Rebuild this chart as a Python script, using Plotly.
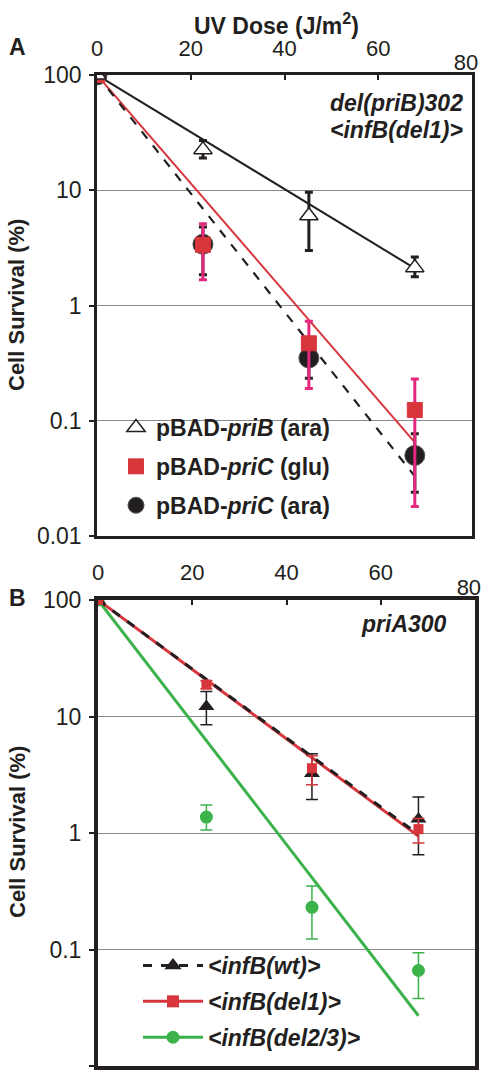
import plotly.graph_objects as go

# ---------------- data ----------------
dose_a = [0, 22.6, 45.2, 67.8]
priB_ara = [100, 22.5, 6.0, 2.13]
priB_ara_hi = [0, 4.5, 3.6, 0.5]
priB_ara_lo = [0, 3.5, 3.0, 0.35]
priC_glu = [100, 3.36, 0.47, 0.124]
priC_glu_hi = [0, 1.75, 0.26, 0.106]
priC_glu_lo = [0, 1.69, 0.28, 0.106]
priC_ara = [100, 3.4, 0.35, 0.05]
priC_ara_hi = [0, 1.4, 0.15, 0.027]
priC_ara_lo = [0, 1.55, 0.116, 0.026]
fit_a_x = [0, 67.8]
fit_priB_ara = [100, 2.1]
fit_priC_glu = [100, 0.065]
fit_priC_ara = [100, 0.033]

dose_b = [0, 23.0, 45.4, 68.0]
infB_wt = [100, 12.2, 3.24, 1.32]
infB_wt_hi = [0, 4.2, 1.56, 0.72]
infB_wt_lo = [0, 3.7, 1.3, 0.67]
infB_del1 = [100, 18.8, 3.6, 1.08]
infB_del1_hi = [0, 1.5, 1.0, 0.25]
infB_del1_lo = [0, 1.5, 1.0, 0.26]
infB_del23 = [100, 1.37, 0.23, 0.066]
infB_del23_hi = [0, 0.37, 0.12, 0.028]
infB_del23_lo = [0, 0.31, 0.107, 0.028]
fit_b_x = [0, 68.0]
fit_wt = [100, 0.97]
fit_del1 = [100, 0.94]
fit_del23 = [100, 0.027]

x_ticks = [0, 20, 40, 60]
x_last_tick = [80]
y_ticks = [0.01, 0.1, 1, 10, 100]
y_ticktext = ["0.01", "0.1", "1", "10", "100"]

BLACK = "#231f20"
RED = "#d8363d"
PINK = "#e5287e"
GREEN = "#3bb24a"
FONT = "Liberation Sans, Arial, sans-serif"
FS = 23

W, H = 483, 1075
def px_x(p):
    return p / W
def px_y(p):
    return 1 - p / H

fig = go.Figure()

# ---------- Panel A ----------
fig.add_trace(go.Scatter(x=fit_a_x, y=fit_priB_ara, mode="lines", line=dict(color=BLACK, width=2),
                         showlegend=False, xaxis="x", yaxis="y"))
fig.add_trace(go.Scatter(x=fit_a_x, y=fit_priC_glu, mode="lines", line=dict(color=RED, width=2),
                         showlegend=False, xaxis="x", yaxis="y"))
fig.add_trace(go.Scatter(x=fit_a_x, y=fit_priC_ara, mode="lines", line=dict(color=BLACK, width=2.2, dash="dash"),
                         showlegend=False, xaxis="x", yaxis="y"))

fig.add_trace(go.Scatter(
    x=dose_a, y=priC_ara, mode="markers", name="<b>pBAD-<i>priC</i> (ara)</b>",
    marker=dict(symbol="circle", size=20, color=BLACK, line=dict(color="#555", width=1)),
    error_y=dict(type="data", symmetric=False, array=priC_ara_hi, arrayminus=priC_ara_lo,
                 color=BLACK, thickness=3, width=4),
    legend="legend", legendrank=3, legendgroup="a3", xaxis="x", yaxis="y"))
fig.add_trace(go.Scatter(
    x=dose_a, y=priC_glu, mode="markers", name="<b>pBAD-<i>priC</i> (glu)</b>",
    marker=dict(symbol="square", size=15, color=RED, line=dict(color=RED, width=1)),
    error_y=dict(type="data", symmetric=False, array=priC_glu_hi, arrayminus=priC_glu_lo,
                 color=PINK, thickness=3, width=4),
    legend="legend", legendrank=2, legendgroup="a2", xaxis="x", yaxis="y"))
fig.add_trace(go.Scatter(
    x=dose_a, y=priB_ara, mode="markers", name="<b>pBAD-<i>priB</i> (ara)</b>",
    marker=dict(symbol="triangle-up", size=16, color="white", line=dict(color=BLACK, width=1.5)),
    error_y=dict(type="data", symmetric=False, array=priB_ara_hi, arrayminus=priB_ara_lo,
                 color=BLACK, thickness=3, width=4),
    legend="legend", legendrank=1, legendgroup="a1", xaxis="x", yaxis="y"))

# ---------- Panel B ----------
fig.add_trace(go.Scatter(x=fit_b_x, y=fit_del23, mode="lines", line=dict(color=GREEN, width=3),
                         showlegend=False, xaxis="x2", yaxis="y2"))
fig.add_trace(go.Scatter(x=fit_b_x, y=fit_del1, mode="lines", line=dict(color=RED, width=3),
                         showlegend=False, xaxis="x2", yaxis="y2"))
fig.add_trace(go.Scatter(x=fit_b_x, y=fit_wt, mode="lines", line=dict(color=BLACK, width=3, dash="dash"),
                         showlegend=False, xaxis="x2", yaxis="y2"))

fig.add_trace(go.Scatter(
    x=dose_b, y=infB_del23, mode="markers", showlegend=False,
    marker=dict(symbol="circle", size=13, color=GREEN),
    error_y=dict(type="data", symmetric=False, array=infB_del23_hi, arrayminus=infB_del23_lo,
                 color=GREEN, thickness=1.5, width=6),
    xaxis="x2", yaxis="y2"))
fig.add_trace(go.Scatter(
    x=dose_b, y=infB_wt, mode="markers", showlegend=False,
    marker=dict(symbol="triangle-up", size=14, color=BLACK),
    error_y=dict(type="data", symmetric=False, array=infB_wt_hi, arrayminus=infB_wt_lo,
                 color=BLACK, thickness=1.5, width=6),
    xaxis="x2", yaxis="y2"))
fig.add_trace(go.Scatter(
    x=dose_b, y=infB_del1, mode="markers", showlegend=False,
    marker=dict(symbol="square", size=10, color=RED),
    error_y=dict(type="data", symmetric=False, array=infB_del1_hi, arrayminus=infB_del1_lo,
                 color=RED, thickness=1.5, width=6),
    xaxis="x2", yaxis="y2"))

# legend entries for panel B (line + marker)
for nm, col, dash, sym, sz, rk in [
        ("<b><i>&lt;infB(wt)&gt;</i></b>", BLACK, "dash", "triangle-up", 15, 1),
        ("<b><i>&lt;infB(del1)&gt;</i></b>", RED, "solid", "square", 12, 2),
        ("<b><i>&lt;infB(del2/3)&gt;</i></b>", GREEN, "solid", "circle", 13, 3)]:
    fig.add_trace(go.Scatter(x=[None], y=[None], mode="lines+markers", name=nm,
                             line=dict(color=col, width=3, dash=dash),
                             marker=dict(symbol=sym, size=sz, color=col),
                             legend="legend2", legendrank=rk, legendgroup="b%d" % rk,
                             xaxis="x2", yaxis="y2"))

xa_dom = [px_x(97), px_x(472)]
xb_dom = [px_x(98), px_x(475)]
ya_dom = [px_y(536), px_y(75)]
yb_dom = [px_y(1066), px_y(600)]

def xaxis(dom, anchor, lw):
    return dict(domain=dom, anchor=anchor, range=[0, 80], side="top", tickvals=x_ticks,
                ticks="inside", ticklen=5, tickwidth=2, tickcolor=BLACK,
                showline=True, linecolor=BLACK, linewidth=lw, mirror=True,
                showgrid=False, zeroline=False, ticklabeloverflow="allow",
                ticklabelstandoff=7,
                tickfont=dict(family=FONT, size=FS - 1, color=BLACK))

def xaxis_last(dom, anchor, over):
    # carries only the final "80" label, nudged slightly inward like the original
    return dict(domain=dom, anchor=anchor, overlaying=over, range=[1.3, 81.3], side="top",
                tickvals=x_last_tick, ticks="inside", ticklen=5, tickwidth=2,
                tickcolor="rgba(0,0,0,0)", showline=False, showgrid=False, zeroline=False,
                ticklabeloverflow="allow", ticklabelstandoff=0,
                tickfont=dict(family=FONT, size=FS - 1, color=BLACK))

def yaxis(dom, anchor, lw):
    return dict(domain=dom, anchor=anchor, type="log", range=[-2, 2], tickvals=y_ticks,
                ticktext=y_ticktext, ticks="outside", ticklen=5, tickwidth=2, tickcolor=BLACK,
                showline=True, linecolor=BLACK, linewidth=lw, mirror=True,
                showgrid=True, gridcolor="#8a8a8a", gridwidth=1, zeroline=False,
                ticklabelstandoff=3,
                tickfont=dict(family=FONT, size=FS, color=BLACK))

fig.update_layout(
    width=W, height=H, margin=dict(l=0, r=0, t=0, b=0, autoexpand=False),
    paper_bgcolor="white", plot_bgcolor="white",
    xaxis=xaxis(xa_dom, "y", 2.5), yaxis=yaxis(ya_dom, "x", 2.5),
    xaxis2=xaxis(xb_dom, "y2", 4), yaxis2=yaxis(yb_dom, "x2", 4),
    xaxis3=xaxis_last(xa_dom, "y", "x"),
    xaxis4=xaxis_last(xb_dom, "y2", "x2"),
    legend=dict(x=px_x(116), y=px_y(406), xanchor="left", yanchor="top", bgcolor="rgba(255,255,255,0)",
                font=dict(family=FONT, size=FS, color=BLACK), tracegroupgap=6, itemsizing="trace"),
    legend2=dict(x=px_x(138), y=px_y(944), xanchor="left", yanchor="top", bgcolor="rgba(255,255,255,0)",
                 font=dict(family=FONT, size=FS, color=BLACK), itemwidth=60, itemsizing="trace",
                 tracegroupgap=3),
    showlegend=True,
)
# invisible anchors so the overlay axes are rendered
fig.add_trace(go.Scatter(x=[None], y=[None], showlegend=False, xaxis="x3", yaxis="y", hoverinfo="skip"))
fig.add_trace(go.Scatter(x=[None], y=[None], showlegend=False, xaxis="x4", yaxis="y2", hoverinfo="skip"))

ann = dict(xref="paper", yref="paper", showarrow=False, yanchor="middle",
           font=dict(family=FONT, size=FS, color=BLACK))
fig.add_annotation(text="<b>UV Dose (J/m<sup>2</sup>)</b>", x=px_x(276), y=px_y(24), xanchor="center", **ann)
fig.add_annotation(text="<b>A</b>", x=px_x(17), y=px_y(47), xanchor="center", **ann)
fig.add_annotation(text="<b>B</b>", x=px_x(17), y=px_y(598), xanchor="center", **ann)
ann_y = dict(ann)
ann_y["font"] = dict(family=FONT, size=FS - 1, color=BLACK)
fig.add_annotation(text="<b>Cell Survival (%)</b>", x=px_x(17), y=px_y(305), xanchor="center",
                   textangle=-90, **ann_y)
fig.add_annotation(text="<b>Cell Survival (%)</b>", x=px_x(17), y=px_y(832), xanchor="center",
                   textangle=-90, **ann_y)
fig.add_annotation(text="<b><i>del(priB)302</i></b>", x=px_x(465), y=px_y(103), xanchor="right", **ann)
fig.add_annotation(text="<b><i>&lt;infB(del1)&gt;</i></b>", x=px_x(465), y=px_y(130), xanchor="right", **ann)
fig.add_annotation(text="<b><i>priA300</i></b>", x=px_x(449), y=px_y(624), xanchor="right", **ann)

fig.write_html("out.html", config={"displayModeBar": False},
               post_script="document.body.style.margin='0px';")
